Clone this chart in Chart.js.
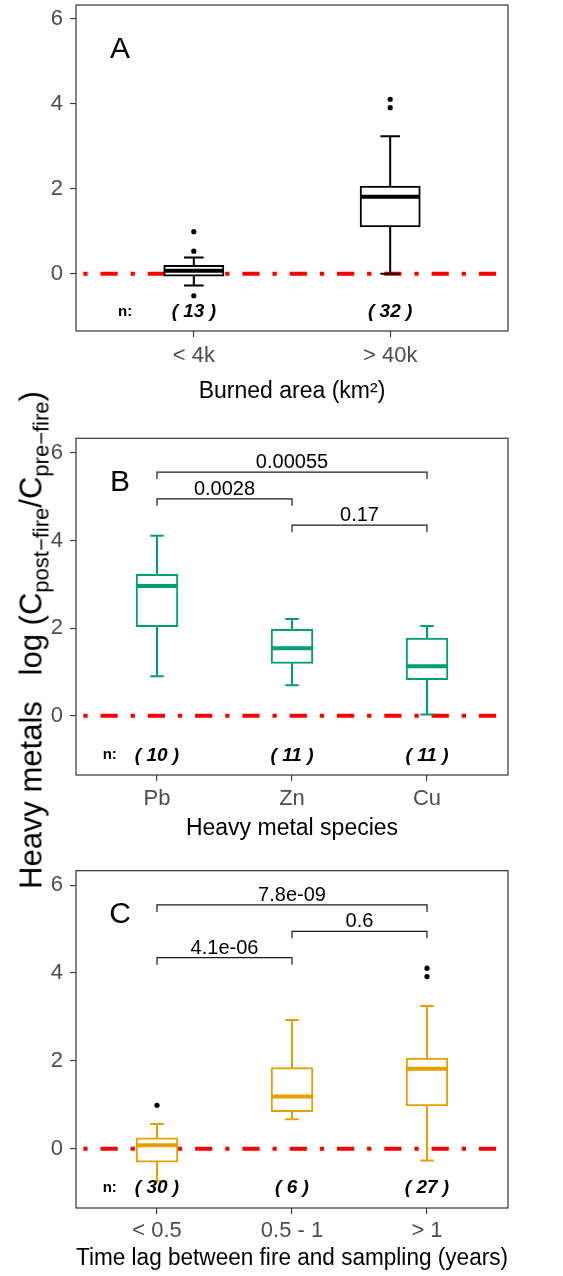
<!DOCTYPE html>
<html>
<head>
<meta charset="utf-8">
<script src="https://cdn.jsdelivr.net/npm/chart.js@4.4.0/dist/chart.umd.min.js"></script>
<style>
  html, body { margin: 0; padding: 0; background: #fff; }
  body { width: 563px; height: 1276px; position: relative; overflow: hidden; font-family: 'Liberation Sans', Arial, sans-serif; }
  .panel { position: absolute; left: 0; width: 563px; }
  #ytitle { position: absolute; left: 31px; top: 640px; transform: translate(-50%, -50%) rotate(-90deg);
            white-space: nowrap; font-size: 31px; line-height: 31px; color: #000; }
  #ytitle sub { font-size: 22px; line-height: 0; vertical-align: -0.3em; }
</style>
</head>
<body>
<div class="panel" style="top:0;height:420px"><canvas id="chartA"></canvas></div>
<div class="panel" style="top:420px;height:430px"><canvas id="chartB"></canvas></div>
<div class="panel" style="top:850px;height:426px"><canvas id="chartC"></canvas></div>
<div id="ytitle">Heavy metals&nbsp;&nbsp;&nbsp;log&nbsp;(C<sub>post−fire</sub>/C<sub>pre−fire</sub>)</div>

<script>
// panel A - burned area
const catsA = ['< 4k', '> 40k'];
const lowA = [-0.28, 0.00];
const q1A = [-0.04, 1.12];
const medA = [0.07, 1.81];
const q3A = [0.18, 2.05];
const highA = [0.38, 3.24];
const outCatA = [1, 1, 1, 2, 2];
const outValA = [0.99, 0.53, -0.52, 4.11, 3.91];
const nA = [13, 32];

// panel B - metal species
const catsB = ['Pb', 'Zn', 'Cu'];
const lowB = [0.90, 0.70, 0.03];
const q1B = [2.05, 1.21, 0.84];
const medB = [2.96, 1.54, 1.13];
const q3B = [3.21, 1.96, 1.76];
const highB = [4.11, 2.21, 2.05];
const outCatB = [];
const outValB = [];
const nB = [10, 11, 11];
const pairFromB = [1, 1, 2];
const pairToB = [3, 2, 3];
const pairYB = [5.56, 4.95, 4.35];
const pLabelB = ['0.00055', '0.0028', '0.17'];

// panel C - time lag
const catsC = ['< 0.5', '0.5 - 1', '> 1'];
const lowC = [-0.74, 0.67, -0.27];
const q1C = [-0.29, 0.86, 0.99];
const medC = [0.08, 1.19, 1.82];
const q3C = [0.23, 1.83, 2.05];
const highC = [0.56, 2.93, 3.25];
const outCatC = [1, 3, 3];
const outValC = [0.99, 4.11, 3.92];
const nC = [30, 6, 27];
const pairFromC = [1, 2, 1];
const pairToC = [3, 3, 2];
const pairYC = [5.55, 4.95, 4.35];
const pLabelC = ['7.8e-09', '0.6', '4.1e-06'];

const yTicks = [0, 2, 4, 6];
const yMin = -1.35, yMax = 6.33;
const refY = 0;
const nLabelX = 0.65, nLabelY = -0.9;
const tipDrop = 0.16;

const FONT = "'Liberation Sans', Arial, sans-serif";
Chart.defaults.font.family = FONT;

const panelDecor = {
  id: 'panelDecor',
  afterDatasetsDraw(chart, args, o) {
    const {ctx, chartArea: a, scales: {x, y}} = chart;
    const bars = chart.getDatasetMeta(0).data;
    ctx.save();
    ctx.strokeStyle = o.color;
    ctx.lineCap = 'butt';
    bars.forEach((bar, i) => {
      const cx = bar.x, w = bar.width, cap = w / 3;
      const yLo = y.getPixelForValue(o.low[i]), yHi = y.getPixelForValue(o.high[i]);
      const yQ1 = y.getPixelForValue(o.q1[i]), yQ3 = y.getPixelForValue(o.q3[i]);
      ctx.lineWidth = 2;
      ctx.beginPath();
      ctx.moveTo(cx, yQ3); ctx.lineTo(cx, yHi);
      ctx.moveTo(cx, yQ1); ctx.lineTo(cx, yLo);
      ctx.moveTo(cx - cap / 2, yHi); ctx.lineTo(cx + cap / 2, yHi);
      ctx.moveTo(cx - cap / 2, yLo); ctx.lineTo(cx + cap / 2, yLo);
      ctx.stroke();
      const ym = y.getPixelForValue(o.med[i]);
      ctx.lineWidth = 4;
      ctx.beginPath(); ctx.moveTo(cx - w / 2, ym); ctx.lineTo(cx + w / 2, ym); ctx.stroke();
    });

    // p-value brackets
    ctx.strokeStyle = '#1a1a1a';
    ctx.lineWidth = 1.2;
    ctx.fillStyle = '#000';
    ctx.font = '20px ' + FONT;
    ctx.textAlign = 'center';
    ctx.textBaseline = 'alphabetic';
    (o.pairFrom || []).forEach((f, i) => {
      const x1 = x.getPixelForValue(f), x2 = x.getPixelForValue(o.pairTo[i]);
      const yl = y.getPixelForValue(o.pairY[i]), yt = y.getPixelForValue(o.pairY[i] - tipDrop);
      ctx.beginPath();
      ctx.moveTo(x1, yt); ctx.lineTo(x1, yl); ctx.lineTo(x2, yl); ctx.lineTo(x2, yt);
      ctx.stroke();
      ctx.fillText(o.pLabel[i], (x1 + x2) / 2, yl - 4);
    });

    // sample sizes
    const yn = y.getPixelForValue(nLabelY);
    ctx.textBaseline = 'middle';
    ctx.font = 'bold 15px ' + FONT;
    ctx.fillText('n:', x.getPixelForValue(nLabelX), yn);
    ctx.font = 'italic bold 19px ' + FONT;
    o.n.forEach((n, i) => ctx.fillText('( ' + n + ' )', x.getPixelForValue(i + 1), yn));

    // panel letter
    ctx.font = '30px ' + FONT;
    ctx.textBaseline = 'alphabetic';
    ctx.fillText(o.letter, a.left + 44, a.top + 52.5);

    // panel frame
    ctx.strokeStyle = '#333';
    ctx.lineWidth = 1.2;
    ctx.strokeRect(a.left, a.top, a.right - a.left, a.bottom - a.top);
    ctx.restore();
  }
};

function makePanel(id, p) {
  const xs = p.cats.map((c, i) => i + 1);
  const xMin = 0.4, xMax = p.cats.length + 0.6;
  const tickGrid = { display: true, drawOnChartArea: false, drawTicks: true, tickLength: 6,
                     color: '#333', lineWidth: 1.1, offset: false };
  return new Chart(document.getElementById(id), {
    type: 'bar',
    data: {
      datasets: [
        {
          type: 'bar',
          data: xs.map((v, i) => ({ x: v, y: [p.q1[i], p.q3[i]] })),
          backgroundColor: '#fff',
          borderColor: p.color,
          borderWidth: 2,
          borderSkipped: false,
          inflateAmount: 1,
          barPercentage: 0.3,
          categoryPercentage: 1,
          order: 1
        },
        {
          type: 'line',
          data: [{ x: xMin, y: refY }, { x: xMax, y: refY }],
          borderColor: '#ff0000',
          borderWidth: 4,
          borderDash: [4.3, 12.9, 17.2, 12.9],
          borderDashOffset: 40,
          borderCapStyle: 'butt',
          pointRadius: 0,
          fill: false,
          order: 3
        },
        {
          type: 'scatter',
          data: p.outCat.map((c, i) => ({ x: c, y: p.outVal[i] })),
          pointRadius: 2.6,
          pointBackgroundColor: '#000',
          pointBorderWidth: 0,
          order: 0
        }
      ]
    },
    options: {
      responsive: true,
      maintainAspectRatio: false,
      animation: false,
      events: [],
      layout: { autoPadding: false, padding: { top: p.padTop, right: 55, left: 0, bottom: 0 } },
      plugins: {
        legend: { display: false },
        tooltip: { enabled: false },
        panelDecor: {
          color: p.color, low: p.low, q1: p.q1, med: p.med, q3: p.q3, high: p.high, n: p.n,
          pairFrom: p.pairFrom, pairTo: p.pairTo, pairY: p.pairY, pLabel: p.pLabel, letter: p.letter
        }
      },
      scales: {
        x: {
          type: 'linear', min: xMin, max: xMax, offset: false,
          afterBuildTicks: s => { s.ticks = xs.map(v => ({ value: v })); },
          afterFit: s => { s.height = p.xAxisH; s.paddingLeft = 0; s.paddingRight = 0; },
          grid: tickGrid,
          border: { display: false },
          ticks: { autoSkip: false, maxRotation: 0, padding: p.tickPad, color: '#4d4d4d',
                   font: { size: 22, lineHeight: 1 }, callback: v => p.cats[Math.round(v) - 1] },
          title: { display: true, text: p.xTitle, color: '#000', font: { size: 23, lineHeight: 1 },
                   padding: { top: 0, bottom: p.titlePadB } }
        },
        y: {
          type: 'linear', min: yMin, max: yMax,
          afterBuildTicks: s => { s.ticks = yTicks.map(v => ({ value: v })); },
          afterFit: s => { s.width = 76; s.paddingTop = 0; s.paddingBottom = 0; },
          grid: tickGrid,
          border: { display: false },
          ticks: { padding: 7, color: '#4d4d4d', font: { size: 22, lineHeight: 1 }, callback: v => String(v) }
        }
      }
    },
    plugins: [panelDecor]
  });
}

makePanel('chartA', {
  cats: catsA, low: lowA, q1: q1A, med: medA, q3: q3A, high: highA,
  outCat: outCatA, outVal: outValA, n: nA, letter: 'A', color: '#000000',
  xTitle: 'Burned area (km²)', padTop: 5, xAxisH: 89, tickPad: 7.5, titlePadB: 17
});
makePanel('chartB', {
  cats: catsB, low: lowB, q1: q1B, med: medB, q3: q3B, high: highB,
  outCat: outCatB, outVal: outValB, n: nB, letter: 'B', color: '#009E73',
  pairFrom: pairFromB, pairTo: pairToB, pairY: pairYB, pLabel: pLabelB,
  xTitle: 'Heavy metal species', padTop: 18.3, xAxisH: 75, tickPad: 7, titlePadB: 10
});
makePanel('chartC', {
  cats: catsC, low: lowC, q1: q1C, med: medC, q3: q3C, high: highC,
  outCat: outCatC, outVal: outValC, n: nC, letter: 'C', color: '#E69F00',
  pairFrom: pairFromC, pairTo: pairToC, pairY: pairYC, pLabel: pLabelC,
  xTitle: 'Time lag between fire and sampling (years)', padTop: 20.7, xAxisH: 68, tickPad: 6, titlePadB: 6
});
</script>
</body>
</html>
